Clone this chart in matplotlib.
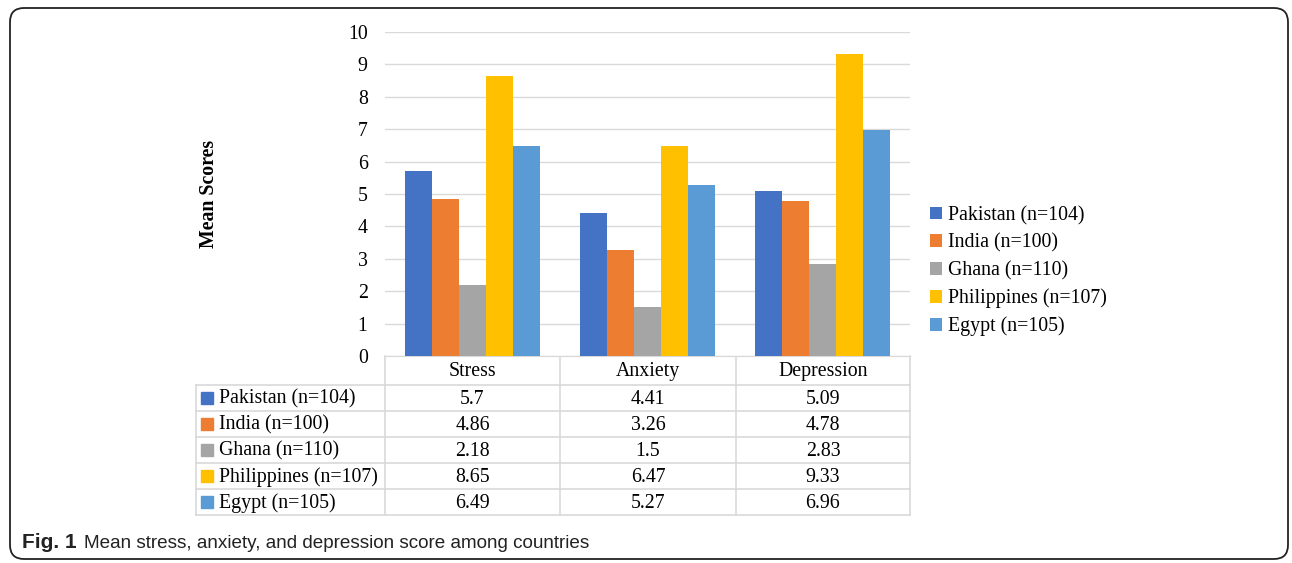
import numpy as np
import matplotlib
matplotlib.use("Agg")
import matplotlib.pyplot as plt
from matplotlib.patches import FancyBboxPatch, Rectangle

# data
measures = ["Stress", "Anxiety", "Depression"]
countries = ["Pakistan (n=104)", "India (n=100)", "Ghana (n=110)",
             "Philippines (n=107)", "Egypt (n=105)"]
pakistan = [5.7, 4.41, 5.09]
india = [4.86, 3.26, 4.78]
ghana = [2.18, 1.5, 2.83]
philippines = [8.65, 6.47, 9.33]
egypt = [6.49, 5.27, 6.96]
series = [pakistan, india, ghana, philippines, egypt]
colors = ["#4472C4", "#ED7D31", "#A5A5A5", "#FFC000", "#5B9BD5"]
yticks = list(range(0, 11))

W, H = 1292, 563
serif = "Liberation Serif"
fs = 14.3
grid_c = "#D9D9D9"

fig = plt.figure(figsize=(W / 100, H / 100), dpi=100)

# overlay axes in pixel coordinates for frame, table and caption
bg = fig.add_axes([0, 0, 1, 1])
bg.set_xlim(0, W)
bg.set_ylim(H, 0)
bg.axis("off")
bg.add_patch(FancyBboxPatch((10, 8), 1278, 551,
                            boxstyle="round,pad=0,rounding_size=14",
                            fc="none", ec="#222222", lw=1.3))

# plot area
px_l, px_r, px_t, px_b = 385, 910, 32, 356
ax = fig.add_axes([px_l / W, 1 - px_b / H, (px_r - px_l) / W, (px_b - px_t) / H])
x = np.arange(len(measures))
bw = 0.155
for i, (vals, c, name) in enumerate(zip(series, colors, countries)):
    ax.bar(x + (i - 2) * bw, vals, bw, color=c, label=name, zorder=3)
ax.set_xlim(-0.5, 2.5)
ax.set_ylim(0, 10)
ax.set_yticks(yticks)
ax.set_yticklabels([str(t) for t in yticks], fontfamily=serif, fontsize=fs)
ax.tick_params(axis="y", length=0, pad=12.5)
ax.set_xticks([])
ax.grid(axis="y", color=grid_c, lw=1, zorder=0)
for s in ["left", "right", "top"]:
    ax.spines[s].set_visible(False)
ax.spines["bottom"].set_color(grid_c)
ax.set_ylabel("Mean Scores", fontfamily=serif, fontsize=fs, fontweight="bold")
ax.yaxis.set_label_coords((219 - px_l) / (px_r - px_l), 0.5)

leg = ax.legend(loc="center left", bbox_to_anchor=((930 - px_l) / (px_r - px_l), 0.262),
                frameon=False, prop={"family": serif, "size": fs}, handlelength=0.6,
                handleheight=0.6, handletextpad=0.3, labelspacing=0.42,
                borderpad=0, borderaxespad=0)

# data table below the plot
col_edges = [px_l, 560, 736, px_r]
lab_l = 196
row_h = 26
hdr_b = 385
rows_y = [hdr_b + k * row_h for k in range(len(countries) + 1)]
lw_t = 1.2
bg.plot([px_l, px_r], [px_b, px_b], color=grid_c, lw=lw_t)
for xe in col_edges:
    bg.plot([xe, xe], [px_b, rows_y[-1]], color=grid_c, lw=lw_t)
bg.plot([lab_l, lab_l], [hdr_b, rows_y[-1]], color=grid_c, lw=lw_t)
for yy in rows_y:
    bg.plot([lab_l, px_r], [yy, yy], color=grid_c, lw=lw_t)
for j, m in enumerate(measures):
    bg.text((col_edges[j] + col_edges[j + 1]) / 2, (px_b + hdr_b) / 2 + 1, m,
            ha="center", va="center", fontfamily=serif, fontsize=fs)
for i, (name, vals, c) in enumerate(zip(countries, series, colors)):
    yc = (rows_y[i] + rows_y[i + 1]) / 2
    bg.add_patch(Rectangle((201, yc - 6), 12, 12, color=c))
    bg.text(219, yc + 1, name, ha="left", va="center", fontfamily=serif, fontsize=fs)
    for j, v in enumerate(vals):
        bg.text((col_edges[j] + col_edges[j + 1]) / 2, yc + 1, f"{v:g}",
                ha="center", va="center", fontfamily=serif, fontsize=fs)

# caption
cap_font = "Liberation Sans"
t1 = bg.text(22, 543, "Fig. 1", ha="left", va="center", fontfamily=cap_font,
             fontsize=15, fontweight="bold", color="#222222")
fig.canvas.draw()
bb = t1.get_window_extent()
bg.text(bb.x1 + 7, 543, "Mean stress, anxiety, and depression score among countries",
        ha="left", va="center", fontfamily=cap_font, fontsize=13.6,
        color="#222222")

fig.savefig("out.png", dpi=100)
